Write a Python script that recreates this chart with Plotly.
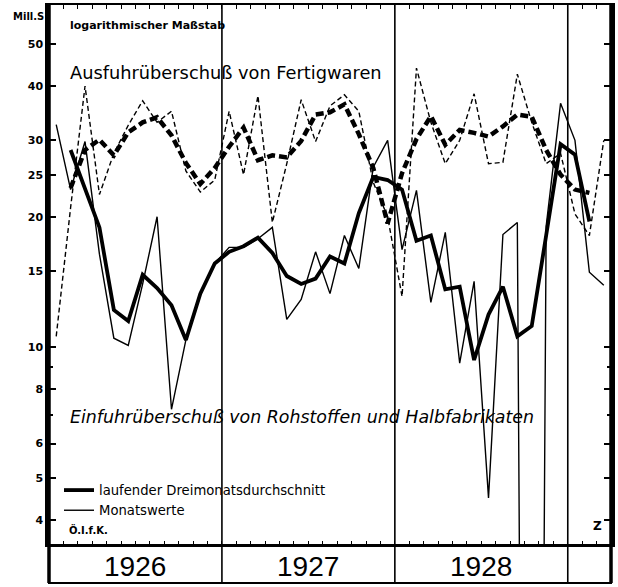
import plotly.graph_objects as go

# ---------------- data (Mill. S, monthly Jan 1926 .. Mar 1929) ----------------
month_index = list(range(39))

ausfuhr_monatswerte = [10.6, 21.0, 40.0, 22.5, 28.0, 32.5, 37.0, 33.0, 35.0, 25.5, 22.8, 24.3,
                       35.0, 25.0, 38.0, 19.4, 26.5, 37.2, 29.8, 36.0, 38.2, 35.0, 24.0, 20.0,
                       13.1, 44.0, 33.0, 26.5, 30.0, 38.4, 26.5, 26.7, 42.6, 33.0, 26.5, 28.0,
                       20.3, 18.1, 30.0]
ausfuhr_durchschnitt = [None, 23.3, 28.5, 30.1, 27.7, 31.3, 33.0, 33.9, 30.8, 26.6, 23.8, 25.9,
                        29.0, 32.1, 27.0, 27.7, 27.4, 29.9, 34.4, 34.8, 36.3, 31.0, 25.9, 19.3,
                        25.2, 30.2, 34.1, 29.3, 31.7, 31.2, 30.6, 32.3, 34.4, 34.0, 28.5, 25.0,
                        23.1, 22.7, None]
# Oct 1928 lies far below the lower edge of the scale
einfuhr_monatswerte = [32.6, 23.1, 29.8, 16.4, 10.5, 10.1, 14.0, 20.0, 7.2, 10.4, 13.3, 15.6,
                       17.0, 17.0, 17.8, 18.9, 11.6, 12.9, 16.6, 13.3, 18.1, 15.2, 26.0, 30.0,
                       16.8, 23.0, 12.7, 18.4, 9.2, 14.2, 4.5, 18.2, 19.4, 0.0001, 19.0, 36.5,
                       30.0, 14.9, 13.9]
einfuhr_durchschnitt = [None, 28.5, 23.3, 18.9, 12.2, 11.5, 14.7, 13.7, 12.5, 10.4, 13.3, 15.6,
                        16.6, 17.1, 17.9, 16.5, 14.6, 14.0, 14.4, 16.2, 15.6, 20.4, 24.7, 24.3,
                        23.1, 17.6, 18.1, 13.6, 13.8, 9.35, 11.9, 13.8, 10.6, 11.2, 18.1, 29.4,
                        27.8, 19.5, None]

years = ["1926", "1927", "1928"]
year_centers = [5.5, 17.5, 29.5]
year_bounds = [11.5, 23.5, 35.5]
y_ticks = [4, 5, 6, 8, 10, 15, 20, 25, 30, 40, 50]
y_minor = [7, 9]

# ---------------- geometry helpers ----------------
L, R, T, B = 49, 7, 5, 42
W, H = 618 - L - R, 587 - T - B


def px_x(p):
    return (p - L) / W


def px_y(p):
    return (587 - B - p) / H


fig = go.Figure()

fig.add_trace(go.Scatter(x=month_index, y=ausfuhr_monatswerte, mode="lines",
                         line=dict(color="black", width=1.4, dash="5px,3px"),
                         showlegend=False, name="Ausfuhr Monatswerte"))
fig.add_trace(go.Scatter(x=month_index, y=ausfuhr_durchschnitt, mode="lines",
                         line=dict(color="black", width=4.5, dash="8px,4px"),
                         showlegend=False, name="Ausfuhr Durchschnitt"))
fig.add_trace(go.Scatter(x=month_index, y=einfuhr_monatswerte, mode="lines",
                         line=dict(color="black", width=1.4),
                         name="Monatswerte", legendrank=2))
fig.add_trace(go.Scatter(x=month_index, y=einfuhr_durchschnitt, mode="lines",
                         line=dict(color="black", width=3.8),
                         name="laufender Dreimonatsdurchschnitt", legendrank=1))

band_bottom = px_y(583)
shapes = []
# year band frame
shapes.append(dict(type="rect", xref="paper", yref="paper", x0=0, x1=1, y0=band_bottom, y1=0,
                   line=dict(color="black", width=2)))
shapes.append(dict(type="line", xref="paper", yref="paper", x0=0, x1=0, y0=band_bottom, y1=1,
                   line=dict(color="black", width=3.5)))
shapes.append(dict(type="line", xref="paper", yref="paper", x0=1, x1=1, y0=band_bottom, y1=1,
                   line=dict(color="black", width=3.5)))
for xb in year_bounds:
    shapes.append(dict(type="line", xref="x", yref="paper", x0=xb, x1=xb, y0=band_bottom, y1=1,
                       line=dict(color="black", width=1.6)))

annotations = []
for yr, xc in zip(years, year_centers):
    annotations.append(dict(text=yr, x=xc, xref="x", y=px_y(566), yref="paper",
                            showarrow=False, xanchor="center", yanchor="middle",
                            font=dict(family="Liberation Sans", size=28, color="black")))

annotations += [
    dict(text="Mill.S", x=px_x(11), y=px_y(16), xanchor="left", yanchor="middle",
         font=dict(size=10, weight="bold")),
    dict(text="logarithmischer Maßstab", x=px_x(68), y=px_y(26), xanchor="left", yanchor="middle",
         font=dict(size=11, weight="bold")),
    dict(text="Ausfuhrüberschuß von Fertigwaren", x=px_x(68), y=px_y(72), xanchor="left",
         yanchor="middle", font=dict(size=17.8)),
    dict(text="<i>Einfuhrüberschuß von Rohstoffen und Halbfabrikaten</i>", x=px_x(68),
         y=px_y(417), xanchor="left", yanchor="middle", font=dict(size=17.4)),
    dict(text="Ö.I.f.K.", x=px_x(67), y=px_y(529), xanchor="left", yanchor="middle",
         font=dict(size=10, weight="bold")),
    dict(text="Z", x=px_x(597), y=px_y(526), xanchor="center", yanchor="middle",
         font=dict(size=12, weight="bold")),
]
for a in annotations:
    a.setdefault("xref", "paper")
    a.setdefault("yref", "paper")
    a["showarrow"] = False
    a["font"].setdefault("color", "black")
    a["font"].setdefault("family", "DejaVu Sans")

fig.update_layout(
    width=618, height=587,
    margin=dict(l=L, r=R, t=T, b=B, autoexpand=False),
    paper_bgcolor="white", plot_bgcolor="white",
    font=dict(family="DejaVu Sans", color="black"),
    shapes=shapes, annotations=annotations,
    legend=dict(x=px_x(59), y=px_y(475), xanchor="left", yanchor="top",
                bgcolor="rgba(0,0,0,0)", font=dict(size=13.2, color="black"),
                tracegroupgap=0, itemwidth=30),
    xaxis=dict(range=[-0.5, 38.5], showgrid=False, zeroline=False,
               showline=True, linecolor="black", linewidth=2, mirror="ticks",
               ticks="inside", tickvals=[i - 0.5 for i in range(40)], ticklen=4,
               tickwidth=1.3, tickcolor="black", showticklabels=False),
    yaxis=dict(type="log", range=[0.5446, 1.7889], showgrid=False, zeroline=False,
               showline=True, linecolor="black", linewidth=3.5, mirror="ticks",
               ticks="inside", tickvals=y_ticks, ticktext=[str(v) for v in y_ticks],
               ticklen=7, tickwidth=2, tickcolor="black",
               tickfont=dict(size=11, weight="bold", color="black"),
               minor=dict(tickvals=y_minor, ticklen=4, tickwidth=1.5, tickcolor="black",
                          ticks="inside")),
)

fig.write_html("out.html", config={"displayModeBar": False},
               post_script="document.body.style.margin='0';document.body.style.padding='0';")
